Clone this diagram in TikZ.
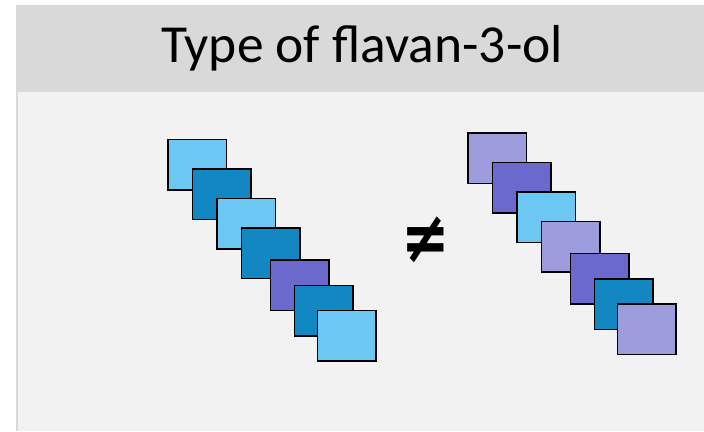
\documentclass[tikz,border=0pt]{standalone}
\usepackage{fontspec}
\setmainfont{Carlito}
\newfontfamily\symfont{DejaVu Sans}
\definecolor{headgray}{HTML}{D9D9D9}
\definecolor{bodygray}{HTML}{F2F2F2}
\definecolor{skyblue}{HTML}{6DC7F3}
\definecolor{deepblue}{HTML}{1287C2}
\definecolor{violet}{HTML}{6B69CC}
\definecolor{lavender}{HTML}{9D9CDD}
\tikzset{
  unit/.style={draw=black, line width=1.5pt, rectangle, inner sep=0pt,
    minimum width=58.5pt, minimum height=50.5pt},
}
\begin{document}
\begin{tikzpicture}[x=1pt, y=-1pt]
  \useasboundingbox (0,0) rectangle (704,431);
  % panel: header band and body
  \fill[headgray] (16,5) rectangle (704,431);
  \fill[bodygray] (18,92) rectangle (704,431);
  \node (title) at (362,48) {\fontsize{53.5}{62}\selectfont Type of flavan-3-ol};
  % left chain
  \foreach \i/\x/\y/\c in {1/197.3/164.9/skyblue, 2/221.7/194.3/deepblue,
      3/246.2/223.7/skyblue, 4/270.7/253.2/deepblue, 5/299.8/285.2/violet,
      6/323.5/310.9/deepblue, 7/346.7/335.9/skyblue}
    \node[unit, fill=\c] (a\i) at (\x,\y) {};
  % right chain
  \foreach \i/\x/\y/\c in {1/497.3/158.4/lavender, 2/521.7/187.8/violet,
      3/546.2/217.2/skyblue, 4/570.7/246.7/lavender, 5/599.8/278.7/violet,
      6/623.5/304.4/deepblue, 7/646.7/329.4/lavender}
    \node[unit, fill=\c] (b\i) at (\x,\y) {};
  \node[yscale=1.25] (neq) at (426,240) {\fontsize{58}{66}\selectfont\symfont\bfseries ≠};
\end{tikzpicture}
\end{document}
